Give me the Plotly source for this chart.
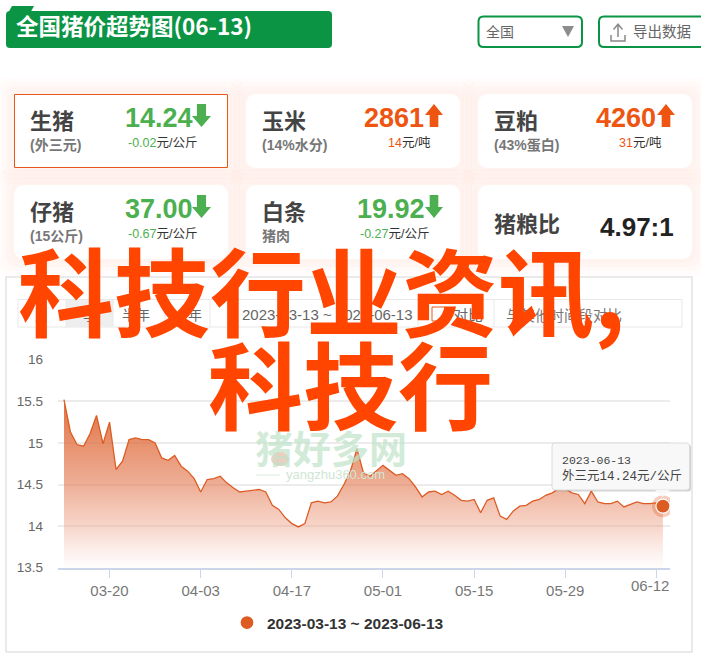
import pandas as pd
import plotly.graph_objects as go

W, H = 701, 656
# ---- data ----
dates = [str(d.date()) for d in pd.date_range("2023-03-13", "2023-06-13")]
prices = [15.52,15.13,14.98,14.96,15.11,15.33,14.99,15.25,14.68,14.78,15.04,15.06,15.04,15.04,15.00,14.82,
          14.79,14.85,14.72,14.66,14.57,14.41,14.56,14.57,14.60,14.52,14.46,14.41,14.42,14.43,14.44,14.41,
          14.25,14.20,14.10,14.03,13.99,14.03,14.28,14.30,14.28,14.29,14.36,14.50,14.66,14.93,14.64,14.60,
          14.66,14.73,14.67,14.61,14.63,14.57,14.47,14.35,14.41,14.42,14.38,14.42,14.37,14.31,14.30,14.32,
          14.16,14.31,14.34,14.12,14.08,14.18,14.24,14.25,14.30,14.32,14.37,14.40,14.45,14.45,14.40,14.38,
          14.27,14.42,14.29,14.27,14.27,14.30,14.23,14.26,14.29,14.27,14.27,14.28,14.24]
y_ticks = [13.5, 14, 14.5, 15, 15.5, 16]
y_labels = ["13.5", "14", "14.5", "15", "15.5", "16"]
x_ticks = ["2023-03-20", "2023-04-03", "2023-04-17", "2023-05-01", "2023-05-15", "2023-05-29", "2023-06-12"]
x_labels = ["03-20", "04-03", "04-17", "05-01", "05-15", "05-29", ""]
last_tick_label = "06-12"
range_label = "2023-03-13 ~ 2023-06-13"

GREEN, ORANGE = "#4caf50", "#ee5511"
# name, sub, value, delta, unit, direction
cards = [
    ("生猪", "(外三元)", "14.24", "-0.02", "元/公斤", "down"),
    ("玉米", "(14%水分)", "2861", "14", "元/吨", "up"),
    ("豆粕", "(43%蛋白)", "4260", "31", "元/吨", "up"),
    ("仔猪", "(15公斤)", "37.00", "-0.67", "元/公斤", "down"),
    ("白条", "猪肉", "19.92", "-0.27", "元/公斤", "down"),
]

CJK = "Noto Sans CJK SC"
LAT = "Liberation Sans, Noto Sans CJK SC"
MONO = "Liberation Mono, Noto Sans CJK SC"

def fx(x): return x / W
def fy(y): return 1 - y / H

shapes, ann = [], []

def rrect(x0, y0, x1, y1, r, fill="white", line=None, lw=1, layer="below"):
    p = (f"M{fx(x0+r)},{fy(y0)} L{fx(x1-r)},{fy(y0)} Q{fx(x1)},{fy(y0)} {fx(x1)},{fy(y0+r)} "
         f"L{fx(x1)},{fy(y1-r)} Q{fx(x1)},{fy(y1)} {fx(x1-r)},{fy(y1)} L{fx(x0+r)},{fy(y1)} "
         f"Q{fx(x0)},{fy(y1)} {fx(x0)},{fy(y1-r)} L{fx(x0)},{fy(y0+r)} Q{fx(x0)},{fy(y0)} {fx(x0+r)},{fy(y0)} Z")
    shapes.append(dict(type="path", path=p, xref="paper", yref="paper", fillcolor=fill, layer=layer,
                       line=dict(color=line or "rgba(0,0,0,0)", width=lw if line else 0)))

def poly(pts, fill, line=None, lw=0, layer="below"):
    p = "M" + " L".join(f"{fx(a)},{fy(b)}" for a, b in pts) + " Z"
    shapes.append(dict(type="path", path=p, xref="paper", yref="paper", fillcolor=fill, layer=layer,
                       line=dict(color=line or "rgba(0,0,0,0)", width=lw)))

def seg(x0, y0, x1, y1, color, w=1, layer="below"):
    shapes.append(dict(type="line", xref="paper", yref="paper", x0=fx(x0), y0=fy(y0), x1=fx(x1), y1=fy(y1),
                       line=dict(color=color, width=w), layer=layer))

def text(x, y, s, size, color="#444", fam=CJK, weight=400, anchor="left", opacity=1):
    ann.append(dict(xref="paper", yref="paper", x=fx(x), y=fy(y), text=s, showarrow=False, xanchor=anchor,
                    yanchor="middle", borderpad=0, opacity=opacity,
                    font=dict(size=size, color=color, family=fam, weight=weight)))

def arrow(x0, x1, y0, y1, color, up):
    c = (x0 + x1) / 2
    hw = (x1 - x0) * 0.24
    head = (y1 - y0) * 0.48
    if up:
        pts = [(c, y0), (x1, y0 + head), (c + hw, y0 + head), (c + hw, y1), (c - hw, y1), (c - hw, y0 + head), (x0, y0 + head)]
    else:
        pts = [(c, y1), (x1, y1 - head), (c + hw, y1 - head), (c + hw, y0), (c - hw, y0), (c - hw, y1 - head), (x0, y1 - head)]
    poly(pts, color)

# ---- header ----
rrect(6, 11, 332, 48, 4, fill="#0a9444")
poly([(7, 15), (12, 6), (34, 6), (29, 15)], "#0a9444")
text(15, 25.5, "全国猪价超势图(06-13)", 22.5, "white", weight=700)
rrect(478.5, 16.5, 582, 47, 5, fill="white", line="#0a9444", lw=2)
text(485, 31, "全国", 14, "#666")
poly([(562, 26), (574, 26), (568, 37)], "#8c8c8c")
rrect(599, 16.5, 720, 47, 5, fill="white", line="#0a9444", lw=2)
text(632, 31, "导出数据", 14.5, "#666")
seg(618, 24, 618, 37, "#888", 1.5)
poly([(613, 29), (618, 23), (623, 29), (622, 30), (618, 25.5), (614, 30)], "#888")
shapes.append(dict(type="path", xref="paper", yref="paper", layer="below", line=dict(color="#888", width=1.5),
                   path=f"M{fx(611)},{fy(35)} L{fx(611)},{fy(41)} L{fx(625)},{fy(41)} L{fx(625)},{fy(35)}"))

# ---- cards ----
cols = [(14, 228), (246, 460), (478, 692)]
rows = [(94, 168), (185, 259)]
for r in rows:
    for c in cols:
        for spread in (16, 12, 8, 4):
            rrect(c[0] - spread, r[0] - spread, c[1] + spread, r[1] + spread, 12, fill="rgba(240,120,70,0.022)")
for r in rows:
    for c in cols:
        rrect(c[0], r[0], c[1], r[1], 11, fill="white")
shapes.append(dict(type="rect", xref="paper", yref="paper", x0=fx(14.5), x1=fx(227.5), y0=fy(94.5), y1=fy(167.5),
                   layer="below", fillcolor="white", line=dict(color="#e8561c", width=1)))

name_x = [29, 261, 493, 29, 261]
val_x = [123.5, 362.5, 594.5, 123.5, 355.5]
arr_x = [(192, 211), (425, 443), (657, 675), (192, 211), (425, 443)]
del_x = [127, 387, 618, 127, 359]
for i, (nm, sub, val, dl, unit, d) in enumerate(cards):
    ro = 0 if i < 3 else 91
    col = GREEN if d == "down" else ORANGE
    text(name_x[i], 119.5 + ro, nm, 22, "#444", weight=700)
    text(name_x[i], 145 + ro, sub, 14, "#777", fam=LAT, weight=700)
    text(val_x[i], 118 + ro, val, 27, col, fam=LAT, weight=700)
    arrow(arr_x[i][0], arr_x[i][1], 104 + ro, 127 + ro, col, d == "up")
    text(del_x[i], 143 + ro, f'<span style="color:{col}">{dl}</span>{unit}', 12.5, "#333", fam=LAT)
text(493, 222, "猪粮比", 22, "#444", weight=700)
text(599, 227, "4.97:1", 26, "#222", fam=LAT, weight=700)

# ---- chart panel ----
shapes.append(dict(type="rect", xref="paper", yref="paper", x0=fx(6), x1=fx(692), y0=fy(277), y1=fy(652),
                   layer="below", fillcolor="white", line=dict(color="#e4e4e4", width=1.5)))
# toolbar
shapes.append(dict(type="rect", xref="paper", yref="paper", x0=fx(18), x1=fx(682), y0=fy(299.5), y1=fy(327),
                   layer="below", fillcolor="white", line=dict(color="#e8e8e8", width=1)))
shapes.append(dict(type="rect", xref="paper", yref="paper", x0=fx(66), x1=fx(113), y0=fy(300), y1=fy(327),
                   layer="below", fillcolor="#eeeeee", line=dict(width=0)))
for sx in (66, 113, 165, 210, 418, 494):
    seg(sx, 300, sx, 327, "#e8e8e8", 1)
for label, cx in (("月", 42), ("季", 90), ("半年", 136), ("一年", 188)):
    text(cx, 314, label, 14, "#666", anchor="center")
text(241, 314, "2023-03-13 ~ 2023-06-13", 15, "#666", fam=LAT)
shapes.append(dict(type="rect", xref="paper", yref="paper", x0=fx(432), x1=fx(445), y0=fy(307), y1=fy(321),
                   layer="below", fillcolor="white", line=dict(color="#e8561c", width=1)))
text(452, 314, "对比", 15, "#666")
text(505, 314, "与其他时间段对比", 14.5, "#777")

# watermark
text(254, 446, "猪好多网", 38, "#bfe3c8", weight=700, opacity=0.7)
seg(256, 475, 280, 475, "#d8ebdc", 1, layer="above")
text(285, 474, "yangzhu360.com", 13, "#cfe6d4", fam=LAT)
shapes.append(dict(type="circle", xref="paper", yref="paper", x0=fx(271), x1=fx(289), y0=fy(452), y1=fy(466),
                   fillcolor="rgba(244,190,175,0.8)", line=dict(width=0), layer="above"))

# tooltip
rrect(553.5, 444.5, 691, 491.5, 3, fill="rgba(120,120,120,0.35)", layer="above")
rrect(552, 443, 689.5, 490, 3, fill="#f8f8f8", line="#dcdcdc", lw=1, layer="above")
poly([(655, 490), (670, 490), (662.5, 497)], "#f8f8f8", layer="above")
text(561, 460, "2023-06-13", 11.5, "#444", fam=MONO)
text(561, 476, "外三元14.24元/公斤", 12.5, "#444", fam=MONO)

# last tick label is pulled inward, as in the page
text(649.5, 585, last_tick_label, 15, "#777", fam=LAT, anchor="center")

# overlay headline
text(17, 287, "科技行业资讯,", 96, "#ff4500", weight=700)
text(207, 381, "科技行", 95, "#ff4500", weight=700)

# ---- traces ----
LINE = "#dd5c24"
fig = go.Figure()
fig.add_trace(go.Scatter(
    x=dates, y=prices, mode="lines", line=dict(color=LINE, width=1.3), showlegend=False,
    fill="tozeroy", hoverinfo="skip",
    fillgradient=dict(type="vertical", start=15.5, stop=13.5,
                      colorscale=[[0, "rgba(221,96,40,0.9)"], [0.5, "rgba(226,120,80,0.6)"],
                                  [0.75, "rgba(236,150,120,0.4)"], [1, "rgba(240,170,150,0.02)"]]),
))
fig.add_trace(go.Scatter(x=dates[-1:], y=prices[-1:], mode="markers", showlegend=False, hoverinfo="skip",
                         marker=dict(size=22, color="rgba(221,92,36,0.3)")))
fig.add_trace(go.Scatter(x=dates[-1:], y=prices[-1:], mode="markers", name=range_label,
                         marker=dict(size=14, color=LINE, line=dict(color="white", width=1.2))))

fig.update_layout(
    width=W, height=H, autosize=False, margin=dict(l=0, r=0, t=0, b=0, autoexpand=False),
    paper_bgcolor="white", plot_bgcolor="rgba(0,0,0,0)",
    shapes=shapes, annotations=ann,
    legend=dict(x=fx(227), y=fy(623), xanchor="left", yanchor="middle", orientation="h",
                font=dict(size=15.5, color="#333", family=LAT, weight=700), bgcolor="rgba(0,0,0,0)", itemsizing="trace"),
    xaxis=dict(domain=[fx(58), fx(670)], type="date", range=["2023-03-12 02:00", "2023-06-14 02:00"],
               tickvals=x_ticks, ticktext=x_labels, ticks="outside", ticklen=9, tickcolor="#ccd6eb", tickwidth=1,
               showline=True, linecolor="#ccd6eb", linewidth=1.5, showgrid=False, zeroline=False,
               tickfont=dict(size=15, color="#777", family=LAT)),
    yaxis=dict(domain=[fy(567.7), fy(359.7)], range=[13.5, 16], tickvals=y_ticks, ticktext=y_labels,
               showgrid=True, gridcolor="#ececec", gridwidth=1.5, zeroline=False, showline=False,
               ticks="", ticklabelstandoff=14, tickfont=dict(size=13.5, color="#666", family=LAT)),
    hovermode=False,
)
fig.write_html("out.html", config={"displayModeBar": False}, post_script="document.body.style.margin='0';")
